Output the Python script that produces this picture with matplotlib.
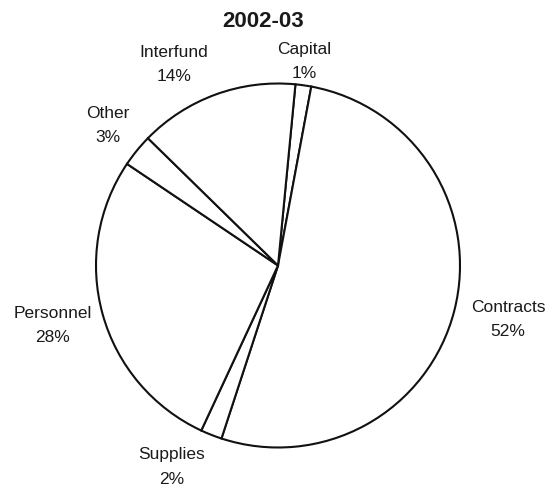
import matplotlib.pyplot as plt

# Dati 2002-03 (quote stimate dal grafico, in ordine orario dall'alto)
categorie = ["Capital", "Contracts", "Supplies", "Personnel", "Other", "Interfund"]
quote = [1.4, 52.1, 1.9, 27.5, 2.9, 14.2]
etichette_pct = ["1%", "52%", "2%", "28%", "3%", "14%"]

# posizione delle etichette (pixel dell'immagine, y dall'alto)
pos_etichette = [(304, 61), (508, 319), (172, 467), (53, 325), (108, 125), (174, 64)]

W, H = 550, 491
fig = plt.figure(figsize=(W / 100, H / 100), dpi=100)
ax = fig.add_axes([0, 0, 1, 1])

ax.pie(
    quote,
    startangle=84.5,
    counterclock=False,
    center=(278, H - 265.5),
    radius=182,
    colors=["white"] * len(quote),
    wedgeprops=dict(edgecolor="#111111", linewidth=1.5),
)
ax.set_xlim(0, W)
ax.set_ylim(0, H)
ax.axis("off")

for nome, pct, (x, y) in zip(categorie, etichette_pct, pos_etichette):
    ax.text(x, H - y, f"{nome}\n{pct}", ha="center", va="center",
            fontsize=12.5, family="Liberation Sans", color="#1a1a1a",
            linespacing=1.75)

ax.text(263, H - 21, "2002-03", ha="center", va="center", fontsize=16,
        fontweight="bold", family="Liberation Sans", color="#1a1a1a")

fig.savefig("out.png", dpi=100)
